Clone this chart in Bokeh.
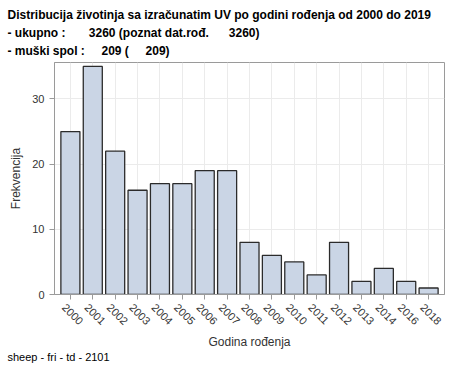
import math
from bokeh.plotting import figure
from bokeh.models import Range1d, FixedTicker, Title, LinearAxis, CustomLabelingPolicy
from bokeh.embed import file_html
from bokeh.resources import INLINE

years = ["2000", "2001", "2002", "2003", "2004", "2005", "2006", "2007", "2008",
         "2009", "2010", "2011", "2012", "2013", "2014", "2016", "2018"]
counts = [25, 35, 22, 16, 17, 17, 19, 19, 8, 6, 5, 3, 8, 2, 4, 2, 1]
y_ticks = [0, 10, 20, 30]

NB = "\u00a0"
title_lines = [
    "Distribucija životinja sa izračunatim UV po godini rođenja od 2000 do 2019",
    "- ukupno :" + NB * 7 + "3260 (poznat dat.rođ." + NB * 6 + "3260)",
    "- muški spol :" + NB * 5 + "209 (" + NB * 5 + "209)",
]
footnote = "sheep - fri - td - 2101"
x_label = "Godina rođenja"
y_label = "Frekvencija"

FONT = "Liberation Sans"
PAD = 0.21        # category padding on each side
LAB_SHIFT = 0.28  # rotated labels sit a little left of the tick

n = len(years)
pos = list(range(n))          # one slot per year category
year_labels = {i: y for i, y in enumerate(years)}

p = figure(width=454, height=378, output_backend="svg", toolbar_location=None,
           x_range=Range1d(-0.5 - PAD, n - 0.5 + PAD),
           y_range=Range1d(0, 35.6),
           min_border_left=54, min_border_right=10, min_border_top=62, min_border_bottom=84)

p.vbar(x=pos, top=counts, width=0.85, fill_color="#CAD5E5", line_color="#2b2b2b", line_width=1.3)

p.outline_line_color = "#9a9a9a"
p.outline_line_width = 1
p.background_fill_color = "white"
p.border_fill_color = "white"

p.xgrid.ticker = FixedTicker(ticks=pos)
p.xgrid.grid_line_color = "#ebebeb"
p.ygrid.grid_line_color = "#ebebeb"
p.ygrid.ticker = FixedTicker(ticks=y_ticks)
p.yaxis.ticker = FixedTicker(ticks=y_ticks)


def style(ax):
    ax.axis_line_color = "#9a9a9a"
    ax.major_tick_line_color = "#9a9a9a"
    ax.minor_tick_line_color = None
    ax.major_tick_out = 5
    ax.major_tick_in = 0
    ax.major_label_text_font = FONT
    ax.major_label_text_font_size = "11px"
    ax.major_label_text_color = "#333333"
    ax.axis_label_text_font = FONT
    ax.axis_label_text_font_size = "12px"
    ax.axis_label_text_font_style = "normal"
    ax.axis_label_text_color = "#333333"


style(p.yaxis[0])
p.yaxis.axis_label = y_label
p.yaxis.major_label_standoff = 5
p.yaxis.axis_label_standoff = 6

# main x axis: only the ticks (its labels are drawn by the label axis below)
xa = p.xaxis[0]
style(xa)
xa.ticker = FixedTicker(ticks=pos)
xa.major_label_policy = CustomLabelingPolicy(code="return []")
xa.major_label_standoff = 0

# label axis: same slots, labels shifted slightly left like the original
p.extra_x_ranges = {"lab": Range1d(-0.5 - PAD + LAB_SHIFT, n - 0.5 + PAD + LAB_SHIFT)}
lab = LinearAxis(x_range_name="lab", ticker=FixedTicker(ticks=pos),
                 major_label_overrides=year_labels)
style(lab)
lab.axis_line_color = None
lab.major_tick_line_color = None
lab.major_tick_out = 0
lab.major_label_orientation = -math.pi / 4
lab.major_label_standoff = -5
lab.axis_label = x_label
lab.axis_label_standoff = 4
p.add_layout(lab, "below")

standoffs = [10, -6, 10]
for t, so in reversed(list(zip(title_lines, standoffs))):
    p.add_layout(Title(text=t, align="left", offset=-47, standoff=so,
                       text_font=FONT, text_font_size="12px", text_font_style="bold",
                       text_color="black"), "above")

p.add_layout(Title(text=footnote, align="left", offset=-47, standoff=-8,
                   text_font=FONT, text_font_size="11px", text_font_style="normal",
                   text_color="black"), "below")

open("out.html", "w").write(file_html(p, INLINE))
